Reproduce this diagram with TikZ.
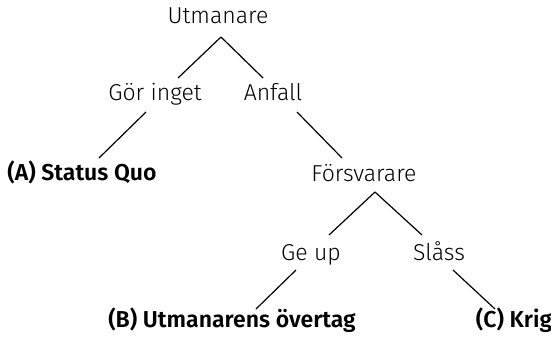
\documentclass[tikz,border=0pt]{standalone}
\usepackage{fontspec}
\setmainfont{Fira Sans}[UprightFont={* Light}, BoldFont={* SemiBold}]
\begin{document}
\begin{tikzpicture}[x=0.5pt, y=-0.5pt,
		every node/.style={anchor=base, inner sep=0pt, font=\fontsize{11.5}{13}\selectfont},
		ende/.style={font=\fontsize{11.5}{13}\selectfont\bfseries},
		zweig/.style={line width=0.6pt}]
		
		\useasboundingbox (0,0) rectangle (551,343);
		
		% Spieler und Aktionen
		\node (utm) at (218,23) {Utmanare};
		\node (gor) at (155,100) {Gör inget};
		\node (anf) at (273,100) {Anfall};
		\node (fors) at (364,181) {Försvarare};
		\node (geup) at (311,260) {Ge up};
		\node (slass) at (439,260) {Slåss};
		
		% Ergebnisse
		\node[ende] (resA) at (82,180) {(A) Status Quo};
		\node[ende] (resB) at (232,327) {(B) Utmanarens övertag};
		\node[ende] (resC) at (514,327) {(C) Krig};
		
		% Zweige
		\coordinate (v1) at (221,37);
		\coordinate (v2) at (375,192);
		\coordinate (gor-o) at (178,78);
		\coordinate (gor-u) at (146,112);
		\coordinate (anf-o) at (263,78);
		\coordinate (anf-u) at (297,112);
		\coordinate (resA-o) at (99,158);
		\coordinate (fors-o) at (342,158);
		\coordinate (geup-o) at (329,235);
		\coordinate (geup-u) at (296,270);
		\coordinate (slass-o) at (422,235);
		\coordinate (slass-u) at (453,270);
		\coordinate (resB-o) at (256,309);
		\coordinate (resC-o) at (495,309);
		\draw[zweig] (v1) -- (gor-o);
		\draw[zweig] (v1) -- (anf-o);
		\draw[zweig] (gor-u) -- (resA-o);
		\draw[zweig] (anf-u) -- (fors-o);
		\draw[zweig] (v2) -- (geup-o);
		\draw[zweig] (v2) -- (slass-o);
		\draw[zweig] (geup-u) -- (resB-o);
		\draw[zweig] (slass-u) -- (resC-o);
		
	\end{tikzpicture}
\end{document}
